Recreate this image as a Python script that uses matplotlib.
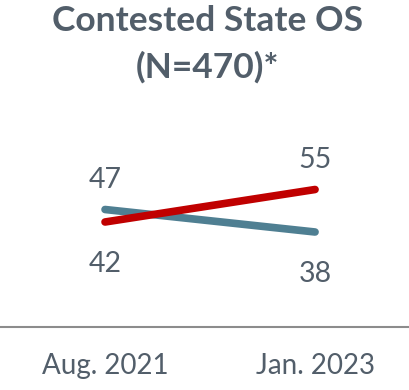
import matplotlib.pyplot as plt

# Survey waves and share (%) for each group
waves = ['Aug. 2021', 'Jan. 2023']
teal_vals = [47, 38]
red_vals = [42, 55]

title_color = '#525e6a'
teal = '#4f7f92'
red = '#c00000'

plt.rcParams['font.family'] = ['Lato', 'DejaVu Sans']

fig = plt.figure(figsize=(4.1, 3.9), dpi=100)
# axes span the full width; bottom edge is the zero baseline
ax = fig.add_axes([0, 63 / 390, 1, 227 / 390])

x = [0, 1]
ax.plot(x, teal_vals, color=teal, linewidth=5.5, solid_capstyle='round')
ax.plot(x, red_vals, color=red, linewidth=5.5, solid_capstyle='round')

ax.set_xlim(-0.5, 1.452)
ax.set_ylim(0, 227 / 2.5)

# value labels: the higher value of each wave sits above, the lower below
for i in x:
    hi, lo = max(teal_vals[i], red_vals[i]), min(teal_vals[i], red_vals[i])
    ax.annotate(str(hi), (i, hi), xytext=(0, 30), textcoords='offset pixels',
                ha='center', va='center', fontsize=20.5, color=title_color)
    ax.annotate(str(lo), (i, lo), xytext=(0, -42), textcoords='offset pixels',
                ha='center', va='center', fontsize=20.5, color=title_color)

ax.set_xticks(x)
ax.set_xticklabels(waves, fontsize=20, color=title_color)
ax.tick_params(axis='x', length=0, pad=19)
ax.set_yticks([])

for side in ['top', 'left', 'right']:
    ax.spines[side].set_visible(False)
ax.spines['bottom'].set_color('#8c8c8c')
ax.spines['bottom'].set_linewidth(1.5)

fig.text(0.507, 1 - 21 / 390, 'Contested State OS', ha='center', va='center',
         fontsize=25.5, fontweight='bold', color=title_color)
fig.text(0.507, 1 - 67 / 390, '(N=470)*', ha='center', va='center',
         fontsize=25.5, fontweight='bold', color=title_color)

fig.savefig('out.png', dpi=100)
